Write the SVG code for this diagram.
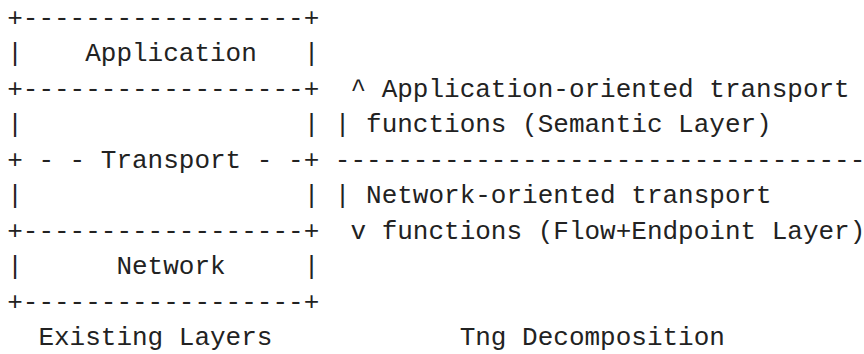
<svg xmlns="http://www.w3.org/2000/svg" width="864" height="354" viewBox="0 0 864 354">
<style>
text { font-family: "Liberation Mono", "DejaVu Sans Mono", monospace; font-size: 26px; fill: #222222; white-space: pre; }
</style>
<rect width="864" height="354" fill="#ffffff"/>
<g id="layers-diagram" xml:space="preserve">
<text x="7.2" y="25.5">+------------------+</text>
<text x="7.2" y="61">|    Application   |</text>
<text x="7.2" y="96.5">+------------------+  ^ Application-oriented transport</text>
<text x="7.2" y="132">|                  | | functions (Semantic Layer)</text>
<text x="7.2" y="167.5">+ - - Transport - -+ ----------------------------------</text>
<text x="7.2" y="203">|                  | | Network-oriented transport</text>
<text x="7.2" y="238.5">+------------------+  v functions (Flow+Endpoint Layer)</text>
<text x="7.2" y="274">|      Network     |</text>
<text x="7.2" y="309.5">+------------------+</text>
<text x="7.2" y="345">  Existing Layers            Tng Decomposition</text>
</g>
</svg>
